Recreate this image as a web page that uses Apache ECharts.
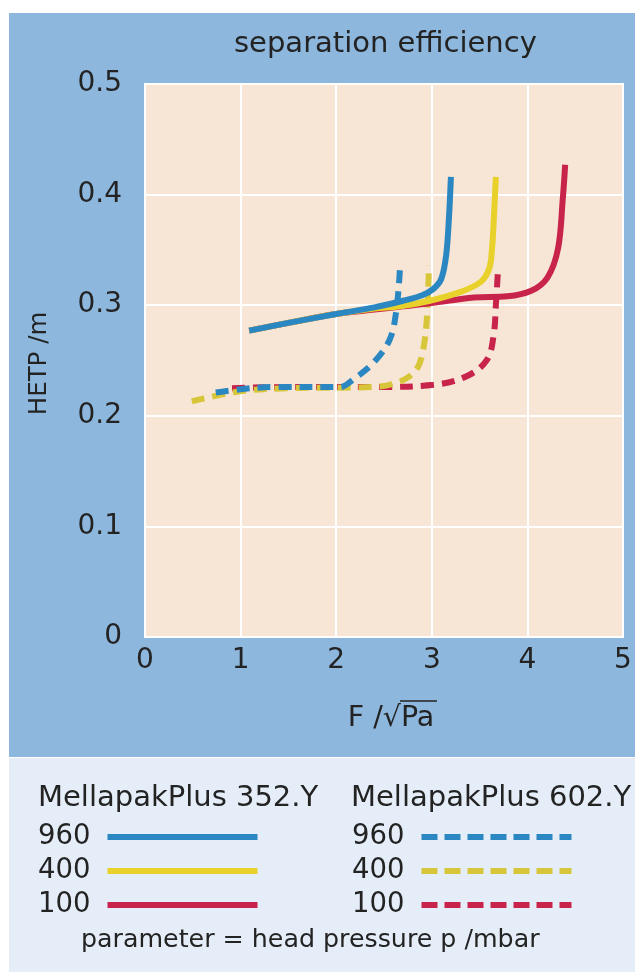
<!DOCTYPE html>
<html>
<head>
<meta charset="utf-8">
<script src="https://cdn.jsdelivr.net/npm/echarts@6/dist/echarts.min.js"></script>
<style>
html,body{margin:0;padding:0;background:#fff;}
#chart{width:635px;height:976px;}
</style>
</head>
<body>
<div id="chart"></div>
<script>
// ---- data (F-factor / sqrt(Pa), HETP / m) ----
const xTicks = [0, 1, 2, 3, 4, 5];
const yTicks = [0, 0.1, 0.2, 0.3, 0.4, 0.5];

// MellapakPlus 352.Y (solid)
const F_352_960 = [1.09, 1.5, 2.0, 2.4, 2.7, 2.9, 3.02, 3.1, 3.15, 3.18, 3.2];
const H_352_960 = [0.277, 0.284, 0.292, 0.298, 0.304, 0.309, 0.315, 0.324, 0.345, 0.38, 0.416];
const F_352_400 = [1.09, 1.5, 2.0, 2.4, 2.67, 2.98, 3.3, 3.51, 3.6, 3.63, 3.65, 3.67];
const H_352_400 = [0.277, 0.284, 0.292, 0.297, 0.299, 0.304, 0.312, 0.321, 0.333, 0.351, 0.38, 0.416];
const F_352_100 = [1.09, 1.5, 2.0, 2.4, 2.7, 3.0, 3.44, 3.79, 4.04, 4.21, 4.32, 4.37, 4.395];
const H_352_100 = [0.277, 0.284, 0.292, 0.296, 0.299, 0.302, 0.307, 0.308, 0.313, 0.325, 0.351, 0.396, 0.427];

// MellapakPlus 602.Y (dashed)
const F_602_960 = [0.74, 1.0, 1.33, 2.04, 2.18, 2.39, 2.56, 2.63, 2.67];
const H_602_960 = [0.221, 0.224, 0.226, 0.226, 0.233, 0.248, 0.269, 0.296, 0.337];
const F_602_400 = [0.49, 0.98, 1.51, 2.39, 2.67, 2.84, 2.91, 2.95, 2.97];
const H_602_400 = [0.213, 0.222, 0.225, 0.226, 0.231, 0.242, 0.26, 0.29, 0.336];
const F_602_100 = [0.91, 1.5, 2.39, 3.02, 3.37, 3.58, 3.65, 3.67, 3.69];
const H_602_100 = [0.225, 0.226, 0.226, 0.228, 0.236, 0.251, 0.275, 0.30, 0.328];

const pressures = ['960', '400', '100'];

const BLUE = '#2b87c1', YELLOW = '#e8d12a', YELLOW_D = '#d8c63a', RED = '#c8234b';
const FONT = '"DejaVu Sans", sans-serif';
const TXT = '#232323';

const SOLID_ICON = 'path://M0,0H150V6H0Z';
const DASH_ICON = 'path://M0,0H16V6H0Z M23,0H39V6H23Z M46,0H62V6H46Z M69,0H85V6H69Z M92,0H108V6H92Z M115,0H131V6H115Z M138,0H150V6H138Z';

function pts(F, H) { return F.map((f, i) => [f, H[i]]); }

function mk(name, F, H, color, dashed) {
  return {
    name: name, type: 'line', data: pts(F, H),
    symbol: 'none', smooth: 0.35, silent: true,
    lineStyle: { color: color, width: 6, type: dashed ? [13, 8] : 'solid', cap: 'butt' },
    itemStyle: { color: color },
    animation: false
  };
}

const series = [
  mk('602.Y 100', F_602_100, H_602_100, RED, true),
  mk('602.Y 400', F_602_400, H_602_400, YELLOW_D, true),
  mk('602.Y 960', F_602_960, H_602_960, BLUE, true),
  mk('352.Y 100', F_352_100, H_352_100, RED, false),
  mk('352.Y 400', F_352_400, H_352_400, YELLOW, false),
  mk('352.Y 960', F_352_960, H_352_960, BLUE, false)
];

function legendFor(pk, left, icon) {
  return {
    data: pressures.map(p => ({ name: pk + ' ' + p, icon: icon })),
    left: left, top: 818, orient: 'vertical', align: 'right',
    itemWidth: 150, itemHeight: 6, itemGap: 6, selectedMode: false,
    symbolKeepAspect: false,
    formatter: n => n.split(' ')[1],
    textStyle: { fontSize: 27.5, lineHeight: 28, color: TXT, fontFamily: FONT, padding: [0, 12, 0, 0] }
  };
}

const chart = echarts.init(document.getElementById('chart'), null, { renderer: 'canvas' });
chart.setOption({
  animation: false,
  backgroundColor: '#ffffff',
  textStyle: { fontFamily: FONT },
  graphic: [
    { type: 'rect', z: -10, shape: { x: 9, y: 13, width: 626, height: 744 }, style: { fill: '#8db7dd' } },
    { type: 'rect', z: -10, shape: { x: 9, y: 758, width: 626, height: 214 }, style: { fill: '#e5eef8' } },
    { type: 'line', z: 10, shape: { x1: 400, y1: 701, x2: 437, y2: 701 }, style: { stroke: TXT, lineWidth: 1.3 } }
  ],
  title: [
    { text: 'separation efficiency', left: 229, top: 25, textStyle: { fontSize: 29, fontWeight: 'normal', color: TXT, fontFamily: FONT } },
    { text: 'MellapakPlus 352.Y', left: 33, top: 779, textStyle: { fontSize: 29, fontWeight: 'normal', color: TXT, fontFamily: FONT } },
    { text: 'MellapakPlus 602.Y', left: 346, top: 779, textStyle: { fontSize: 29, fontWeight: 'normal', color: TXT, fontFamily: FONT } },
    { text: 'parameter = head pressure p /mbar', left: 76, top: 923, textStyle: { fontSize: 25.3, fontWeight: 'normal', color: TXT, fontFamily: FONT } }
  ],
  legend: [legendFor('352.Y', 33, SOLID_ICON), legendFor('602.Y', 347, DASH_ICON)],
  grid: {
    left: 145, right: 12, top: 84, bottom: 339,
    show: true, backgroundColor: '#f7e5d6', borderColor: '#ffffff', borderWidth: 2
  },
  xAxis: {
    type: 'value', min: xTicks[0], max: xTicks[xTicks.length - 1], interval: 1,
    name: 'F /√Pa', nameLocation: 'middle', nameGap: 67,
    nameTextStyle: { fontSize: 28.5, color: TXT, fontFamily: FONT, padding: [0, 0, 0, 14] },
    axisLine: { show: false }, axisTick: { show: false },
    axisLabel: { fontSize: 28, color: TXT, margin: 10, fontFamily: FONT },
    splitLine: { show: true, lineStyle: { color: '#ffffff', width: 2 } }
  },
  yAxis: {
    type: 'value', min: yTicks[0], max: yTicks[yTicks.length - 1], interval: 0.1,
    name: 'HETP /m', nameLocation: 'middle', nameGap: 93, nameRotate: 90,
    nameTextStyle: { fontSize: 24.5, color: TXT, fontFamily: FONT, padding: [0, 6, 0, 0] },
    axisLine: { show: false }, axisTick: { show: false },
    axisLabel: { fontSize: 28, color: TXT, margin: 23, fontFamily: FONT,
      formatter: v => (v === 0 ? '0' : v.toFixed(1)) },
    splitLine: { show: true, lineStyle: { color: '#ffffff', width: 2 } }
  },
  series: series
});
</script>
</body>
</html>
